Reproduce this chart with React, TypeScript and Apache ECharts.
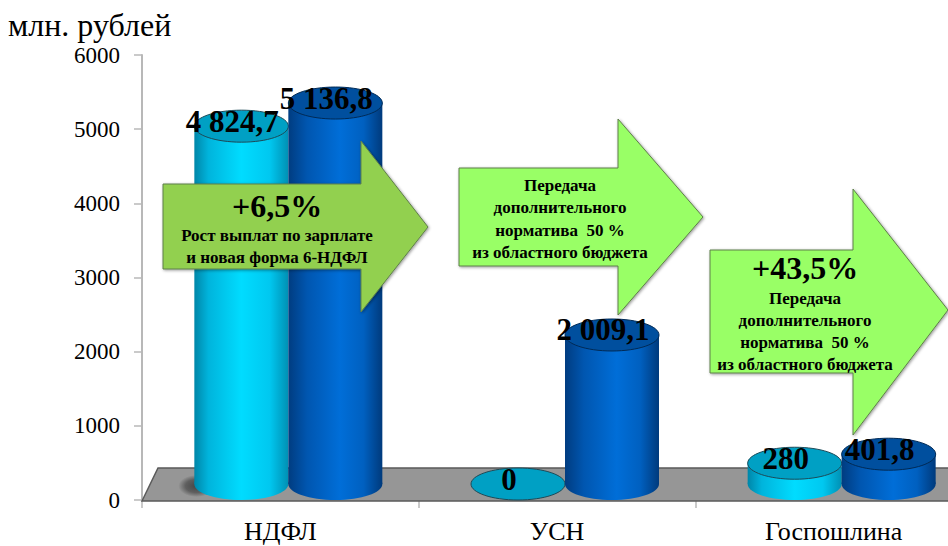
import React, { useEffect, useRef } from "react";
import * as echarts from "echarts";

const categories = ["НДФЛ", "УСН", "Госпошлина"];
const series2016 = [4824.7, 0, 280];
const series2017 = [5136.8, 2009.1, 401.8];
const labels2016 = ["4 824,7", "0", "280"];
const labels2017 = ["5 136,8", "2 009,1", "401,8"];
const unitTitle = "млн. рублей";
const arrow1Lines = ["Рост выплат по зарплате", "и новая форма 6-НДФЛ"];
const arrow2Lines = ["Передача", "дополнительного", "норматива  50 %", "из областного бюджета"];
const arrow3Lines = ["Передача", "дополнительного", "норматива  50 %", "из областного бюджета"];

const SERIF = '"Liberation Serif", "Times New Roman", serif';
const DEPTH = 16;
const HALF = 47;
const RY = 16;

function gradient(stops: [number, string][]) {
  return new echarts.graphic.LinearGradient(0, 0, 1, 0, stops.map(([offset, color]) => ({ offset, color })));
}

function cylinderRenderer(
  shift: number,
  bodyStops: [number, string][],
  topColor: string,
  edgeColor: string,
  labels: string[],
  withShadow: boolean
) {
  return (_params: any, api: any) => {
    const idx = api.value(0);
    const val = api.value(1);
    const top = api.coord([idx, val]);
    const base = api.coord([idx, 0]);
    const cx = base[0] + shift;
    const by = base[1] - DEPTH;
    const ty = top[1] - DEPTH;
    const children: any[] = [];
    if (withShadow && idx === 0) {
      children.push({
        type: "ellipse",
        shape: { cx: cx - HALF + 2, cy: by + 2, rx: 18, ry: 11 },
        style: {
          fill: new echarts.graphic.RadialGradient(0.5, 0.5, 0.5, [
            { offset: 0, color: "rgba(50,50,50,0.8)" },
            { offset: 0.6, color: "rgba(50,50,50,0.55)" },
            { offset: 1, color: "rgba(50,50,50,0)" },
          ]),
        },
      });
    }
    if (val > 0) {
      const body = gradient(bodyStops);
      children.push({
        type: "ellipse",
        shape: { cx, cy: by, rx: HALF, ry: RY },
        style: { fill: body },
      });
      children.push({
        type: "rect",
        shape: { x: cx - HALF, y: ty, width: HALF * 2, height: by - ty },
        style: { fill: body },
      });
    }
    children.push({
      type: "ellipse",
      shape: { cx, cy: ty, rx: HALF, ry: RY },
      style: { fill: topColor, stroke: edgeColor, lineWidth: 1 },
    });
    children.push({
      type: "text",
      z2: 50,
      style: {
        text: labels[idx],
        x: cx - 9,
        y: ty - 5,
        align: "center",
        verticalAlign: "middle",
        fill: "#000",
        font: `bold 31px ${SERIF}`,
      },
    });
    return { type: "group", children };
  };
}

function arrow(
  left: number,
  right: number,
  headX: number,
  shaftTop: number,
  shaftBottom: number,
  tipTop: number,
  tipBottom: number,
  tipY: number,
  fill: string
) {
  return {
    type: "polygon",
    z: 100,
    shape: {
      points: [
        [left, shaftTop],
        [headX, shaftTop],
        [headX, tipTop],
        [right, tipY],
        [headX, tipBottom],
        [headX, shaftBottom],
        [left, shaftBottom],
      ],
    },
    style: {
      fill,
      stroke: "#5f7f4a",
      lineWidth: 1,
      shadowBlur: 3,
      shadowOffsetX: 1,
      shadowOffsetY: 1,
      shadowColor: "rgba(0,0,0,0.4)",
    },
  };
}

function note(text: string, x: number, y: number, font: string) {
  return {
    type: "text",
    z: 101,
    x,
    y,
    style: { text, align: "center", verticalAlign: "middle", fill: "#000", font },
  };
}

export default function App() {
  const ref = useRef<HTMLDivElement>(null);

  useEffect(() => {
    const chart = echarts.init(ref.current!, undefined, { renderer: "svg" });
    const lightStops: [number, string][] = [
      [0, "#0086a8"],
      [0.15, "#00b4dc"],
      [0.5, "#00dcff"],
      [0.8, "#00c8f0"],
      [1, "#0090b4"],
    ];
    const blueStops: [number, string][] = [
      [0, "#003c80"],
      [0.2, "#0056b0"],
      [0.55, "#006ed8"],
      [0.8, "#0060c0"],
      [1, "#003a7c"],
    ];
    const small = `bold 17px ${SERIF}`;
    const big = `bold 32px ${SERIF}`;
    chart.setOption({
      animation: false,
      backgroundColor: "#fff",
      grid: { left: 142, top: 55, height: 445, width: 830, outerBoundsMode: "none" },
      xAxis: {
        type: "category",
        data: categories,
        boundaryGap: true,
        axisLine: { show: false },
        axisTick: { show: true, alignWithLabel: false, length: 8, lineStyle: { color: "#b8b8b8", width: 1.5 } },
        axisLabel: { color: "#000", fontFamily: SERIF, fontSize: 26, margin: 18 },
        splitLine: { show: false },
      },
      yAxis: {
        type: "value",
        min: 0,
        max: 6000,
        interval: 1000,
        axisLine: { show: true, lineStyle: { color: "#b8b8b8", width: 2 } },
        axisTick: { show: true, length: 8, lineStyle: { color: "#b8b8b8", width: 1.5 } },
        axisLabel: {
          color: "#000",
          fontFamily: SERIF,
          fontSize: 23,
          margin: 22,
          formatter: (v: number) => String(v),
        },
        splitLine: { show: false },
      },
      series: [
        {
          type: "custom",
          z: 1,
          data: [[0, 0]],
          encode: { x: 0, y: 1 },
          silent: true,
          renderItem: (_p: any, api: any) => {
            const o = api.coord([0, 0]);
            const band = api.size([1, 0])[0];
            const x0 = o[0] - band / 2;
            const y0 = o[1];
            return {
              type: "polygon",
              shape: {
                points: [
                  [x0, y0 + 1],
                  [x0 + 16, y0 - 32],
                  [x0 + 3 * band, y0 - 32],
                  [x0 + 3 * band, y0 + 1],
                ],
              },
              style: { fill: "#969696", stroke: "#5a5a5a", lineWidth: 1.5 },
            };
          },
        },
        {
          type: "custom",
          z: 2,
          data: series2016.map((v, i) => [i, v]),
          encode: { x: 0, y: 1 },
          renderItem: cylinderRenderer(-39, lightStops, "#00a0c4", "#1d4a58", labels2016, true),
        },
        {
          type: "custom",
          z: 3,
          data: series2017.map((v, i) => [i, v]),
          encode: { x: 0, y: 1 },
          renderItem: cylinderRenderer(55, blueStops, "#004f9e", "#012a55", labels2017, false),
        },
      ],
      graphic: {
        elements: [
          {
            type: "text",
            z: 101,
            x: 8,
            y: 25,
            style: { text: unitTitle, align: "left", verticalAlign: "middle", fill: "#000", font: `32px ${SERIF}` },
          },
          arrow(163, 428, 361, 184, 269, 141, 312, 227, "#92d050"),
          note("+6,5%", 277, 206, big),
          note(arrow1Lines[0], 277, 235, small),
          note(arrow1Lines[1], 277, 257, small),
          arrow(459, 703, 618, 168, 266, 119, 315, 217, "#99ff66"),
          ...arrow2Lines.map((t, i) => note(t, 560, 185 + i * 22.5, small)),
          arrow(710, 948, 853, 250, 373, 189, 435, 310, "#99ff66"),
          note("+43,5%", 805, 268, big),
          ...arrow3Lines.map((t, i) => note(t, 805, 298 + i * 22.3, small)),
        ],
      },
    });
    return () => chart.dispose();
  }, []);

  return <div ref={ref} style={{ position: "absolute", left: 0, top: 0, width: 948, height: 546 }} />;
}
